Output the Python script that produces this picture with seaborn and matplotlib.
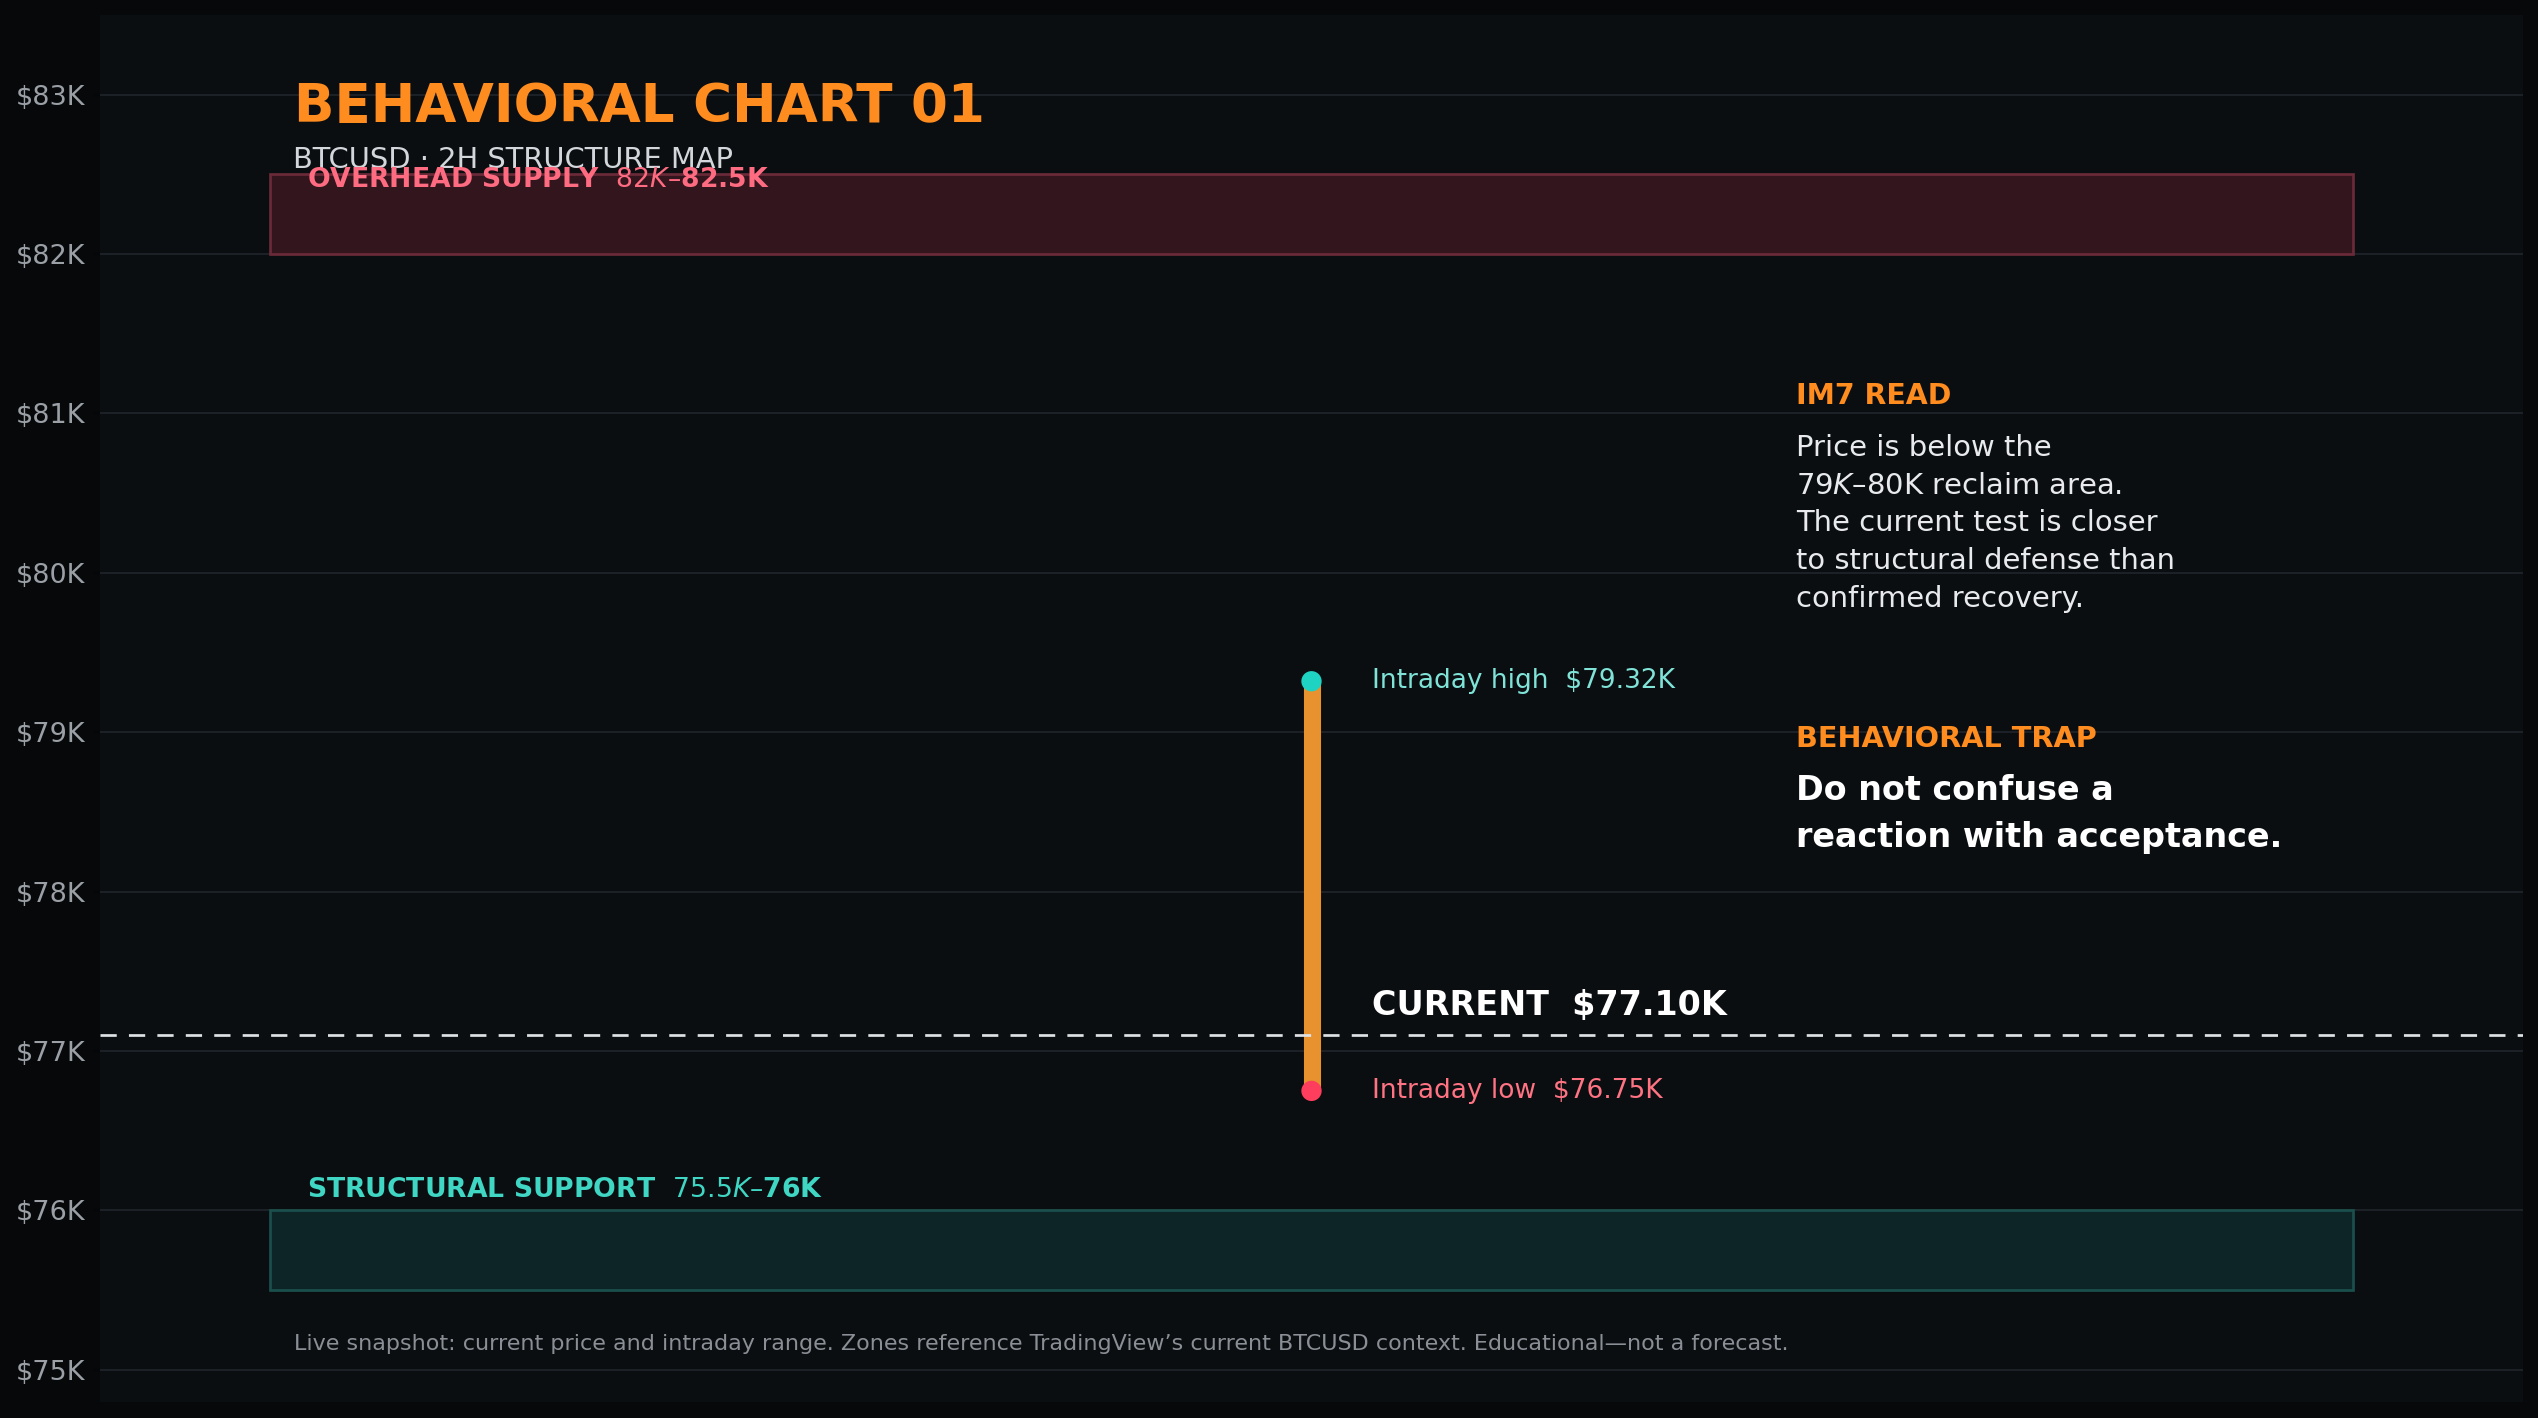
import matplotlib
matplotlib.use("Agg")
import matplotlib.pyplot as plt
import seaborn as sns
import pandas as pd
from matplotlib.patches import Rectangle

# ---------------- data ----------------
price_ticks = [75, 76, 77, 78, 79, 80, 81, 82, 83]          # $K
tick_labels = ["\\$75K", "\\$76K", "\\$77K", "\\$78K", "\\$79K",
               "\\$80K", "\\$81K", "\\$82K", "\\$83K"]
supply_zone = [82.0, 82.5]
support_zone = [75.5, 76.0]
intraday_high = 79.32
intraday_low = 76.75
current_price = 77.10

title_text = "BEHAVIORAL CHART 01"
subtitle_text = "BTCUSD · 2H STRUCTURE MAP"
supply_label = "OVERHEAD SUPPLY  $82K–$82.5K"
support_label = "STRUCTURAL SUPPORT  $75.5K–$76K"
high_label = "Intraday high  \\$79.32K"
low_label = "Intraday low  \\$76.75K"
current_label = "CURRENT  \\$77.10K"
read_title = "IM7 READ"
read_body = ("Price is below the\n$79K–$80K reclaim area.\nThe current test is closer\n"
             "to structural defense than\nconfirmed recovery.")
trap_title = "BEHAVIORAL TRAP"
trap_body = "Do not confuse a\nreaction with acceptance."
footnote = ("Live snapshot: current price and intraday range. Zones reference "
            "TradingView’s current BTCUSD context. Educational—not a forecast.")

# ---------------- style ----------------
FIG_BG = "#07080a"
AX_BG = "#0b0e11"
ORANGE = "#ff8c1f"
sns.set_theme(style="dark")
plt.rcParams["font.family"] = ["DejaVu Sans"]

W, H, DPI = 2538, 1418, 150
fig = plt.figure(figsize=(W / DPI, H / DPI), dpi=DPI, facecolor=FIG_BG)
ax = fig.add_axes([100 / W, (H - 1401.7) / H, 2423 / W, (1401.7 - 15) / H])
ax.set_facecolor(AX_BG)
ax.set_xlim(0, 1)
ax.set_ylim(74.8, 83.5)
for s in ax.spines.values():
    s.set_visible(False)
ax.set_xticks([])
ax.set_yticks(price_ticks)
ax.set_yticklabels(tick_labels)
ax.tick_params(axis="y", colors="#050607", labelcolor="#9aa0a6",
               labelsize=13, length=3.5, width=1, pad=3.5, left=True)
ax.grid(axis="y", color="#1e2329", lw=0.9, zorder=0)
ax.set_axisbelow(True)

# zones
ax.add_patch(Rectangle((0.07, supply_zone[0]), 0.86, supply_zone[1] - supply_zone[0],
                       facecolor="#33151e", edgecolor="#6a2a38", lw=1.3, zorder=1))
ax.add_patch(Rectangle((0.07, support_zone[0]), 0.86, support_zone[1] - support_zone[0],
                       facecolor="#0e2528", edgecolor="#1a504c", lw=1.3, zorder=1))

# intraday range bar + markers
rng = pd.DataFrame({"x": [0.5, 0.5], "price": [intraday_low, intraday_high],
                    "kind": ["low", "high"]})
sns.lineplot(data=rng, x="x", y="price", estimator=None, sort=False, ax=ax,
             color="#e8912f", lw=8.2, solid_capstyle="butt", zorder=3)
sns.scatterplot(data=rng, x="x", y="price", hue="kind",
                palette={"low": "#ff3d5c", "high": "#1fd3c3"},
                s=95, edgecolor="none", legend=False, ax=ax, zorder=4)
ax.set_xlabel("")
ax.set_ylabel("")

# current price line
ax.axhline(current_price, color="#dfe2e5", lw=1.3, ls=(0, (6, 4.5)), zorder=5)

# texts
ax.text(0.080, 82.829, title_text, color=ORANGE, fontsize=25.5, fontweight="bold",
        va="baseline", ha="left")
ax.text(0.0795, 82.54, subtitle_text, color="#d3d7db", fontsize=13.85,
        va="baseline", ha="left")
ax.text(0.0855, 82.42, supply_label, color="#ff6b81", fontsize=12.8,
        fontweight="bold", va="baseline", ha="left")
ax.text(0.0855, 76.087, support_label, color="#3fd6c4", fontsize=12.8,
        fontweight="bold", va="baseline", ha="left")
ax.text(0.525, intraday_high, high_label, color="#7fe3d8", fontsize=12.7,
        va="center", ha="left")
ax.text(0.525, intraday_low, low_label, color="#ff7383", fontsize=12.7,
        va="center", ha="left")
ax.text(0.525, 77.226, current_label, color="white", fontsize=16,
        fontweight="bold", va="baseline", ha="left")
ax.text(0.700, 81.06, read_title, color=ORANGE, fontsize=13.6, fontweight="bold",
        va="baseline", ha="left")
ax.text(0.700, 79.788, read_body, color="#e8eaed", fontsize=13.9,
        va="baseline", ha="left", linespacing=1.44)
ax.text(0.700, 78.91, trap_title, color=ORANGE, fontsize=13.8, fontweight="bold",
        va="baseline", ha="left")
ax.text(0.700, 78.282, trap_body, color="white", fontsize=16, fontweight="bold",
        va="baseline", ha="left", linespacing=1.52)
ax.text(0.08, 75.125, footnote, color="#8a8f96", fontsize=10.7,
        va="baseline", ha="left")

fig.savefig("out.png", dpi=DPI, facecolor=FIG_BG)
